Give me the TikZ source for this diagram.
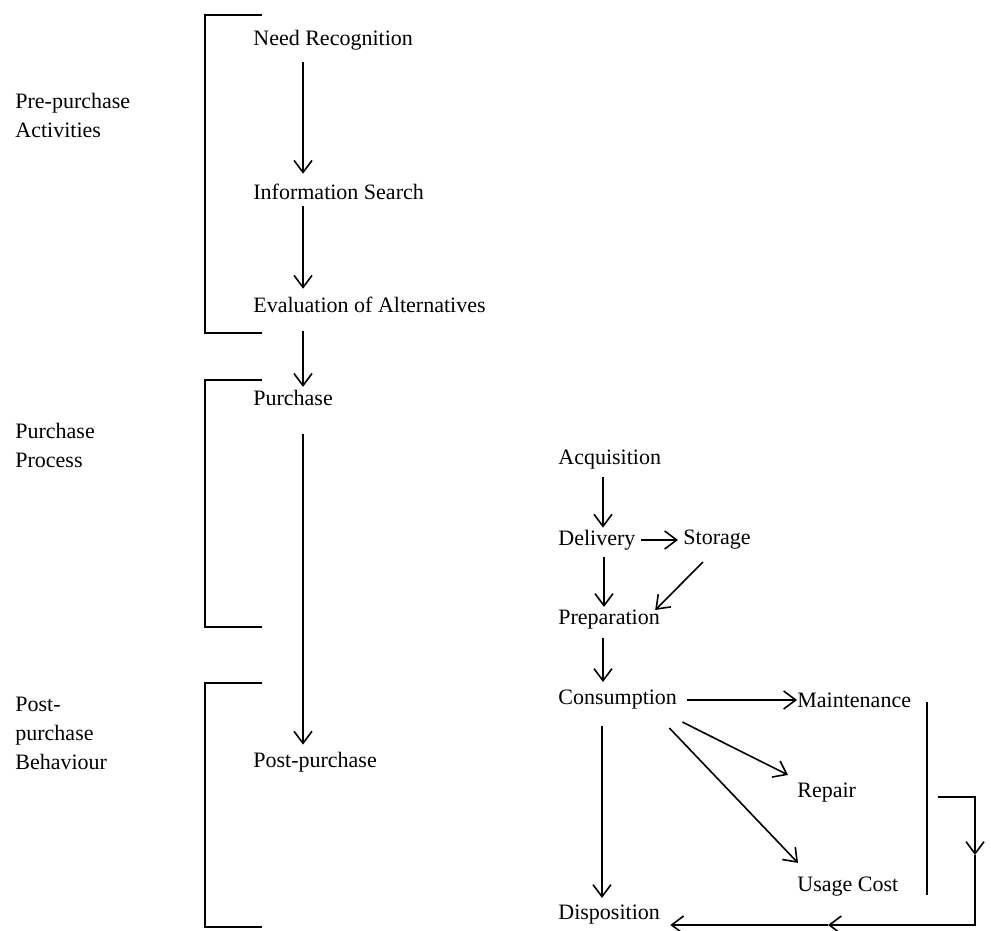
\documentclass[tikz,border=0pt]{standalone}
\usepackage{fontspec}
\setmainfont{Liberation Serif}
\usetikzlibrary{arrows.meta}
\begin{document}
\begin{tikzpicture}[x = 0.5pt, y = -0.5pt,
        lbl/.style = {anchor=west, inner sep=0pt, font=\fontsize{11}{14.5}\selectfont},
        grp/.style = {lbl, align=left},
        arr/.style = {black, line width=0.8pt, -{Straight Barb[length=6pt, width=9pt]}},
        brk/.style = {black, line width=0.8pt}]
            \useasboundingbox (0,0) rectangle (991,931);
            % stages on the left
            \node[grp] (prebuy) at (15,115) {Pre-purchase\\Activities};
            \node[grp] (buyproc) at (15,445) {Purchase\\Process};
            \node[grp] (postbuy) at (15,733) {Post-\\purchase\\Behaviour};
            \draw[brk] (262,15) -- (205,15) -- (205,333) -- (262,333);
            \draw[brk] (262,380) -- (205,380) -- (205,627) -- (262,627);
            \draw[brk] (262,683) -- (205,683) -- (205,927) -- (262,927);
            % main column
            \node[lbl] (need) at (253,40) {Need Recognition};
            \node[lbl] (info) at (253,192) {Information Search};
            \node[lbl] (eval) at (253,305) {Evaluation of Alternatives};
            \node[lbl] (buy) at (253,398) {Purchase};
            \node[lbl] (post) at (253,762) {Post-purchase};
            \draw[arr, shorten <=6pt, shorten >=5pt] ([xshift=25pt]need.south west) -- ([xshift=25pt]info.north west);
            \draw[arr, shorten <=3pt, shorten >=4pt] ([xshift=25pt]info.south west) -- ([xshift=25pt]eval.north west);
            \draw[arr, shorten <=9pt, shorten >=1.5pt] ([xshift=25pt]eval.south west) -- ([xshift=25pt]buy.north west);
            \draw[arr, shorten <=14pt, shorten >=3.5pt] ([xshift=25pt]buy.south west) -- ([xshift=25pt]post.north west);
            % post-purchase detail
            \node[lbl] (acq) at (558,460) {Acquisition};
            \node[lbl] (deliv) at (558,540) {Delivery};
            \node[lbl] (stor) at (683,540) {Storage};
            \node[lbl] (prep) at (558,620) {Preparation};
            \node[lbl] (cons) at (558,700) {Consumption};
            \node[lbl] (maint) at (797,700) {Maintenance};
            \node[lbl] (repair) at (797,793) {Repair};
            \node[lbl] (usage) at (797,887) {Usage Cost};
            \node[lbl] (disp) at (558,915) {Disposition};
            \draw[arr, shorten <=3.5pt, shorten >=1pt] ([xshift=22.5pt]acq.south west) -- ([xshift=22.5pt]deliv.north west);
            \draw[arr, shorten <=2.5pt, shorten >=2.5pt] (deliv.east) -- (stor.west);
            \draw[arr, shorten <=3.5pt, shorten >=1.5pt] ([xshift=23pt]deliv.south west) -- ([xshift=23pt]prep.north west);
            \draw[arr] ([shift={(20,12)}]stor.south west) -- ([shift={(-5,0)}]prep.north east);
            \draw[arr, shorten <=4pt, shorten >=4pt] ([xshift=22.5pt]prep.south west) -- ([xshift=22.5pt]cons.north west);
            \draw[arr, shorten <=5pt] (cons.east) -- (maint.west);
            \draw[arr] ([shift={(5,12)}]cons.south east) -- ([shift={(-9,-8)}]repair.north west);
            \draw[arr] ([shift={(-8,18)}]cons.south east) -- ([shift={(1,-14)}]usage.north west);
            \draw[arr, shorten <=8pt, shorten >=3.5pt] ([xshift=22pt]cons.south west) -- ([xshift=22pt]disp.north west);
            % return loop to disposition
            \coordinate (mtop) at (927,702);
            \coordinate (mbot) at (927,895);
            \coordinate (loopa) at (938,797);
            \coordinate (loopb) at (975,797);
            \coordinate (loopc) at (975,855);
            \coordinate (loopd) at (975,925);
            \coordinate (loope) at (828,925);
            \draw[brk] (mtop) -- (mbot);
            \draw[arr] (loopa) -- (loopb) -- (loopc);
            \draw[arr] (loopc) -- (loopd) -- (loope);
            \draw[arr, shorten >=5pt] (loope) -- (disp.east |- loope);
        \end{tikzpicture}
\end{document}
